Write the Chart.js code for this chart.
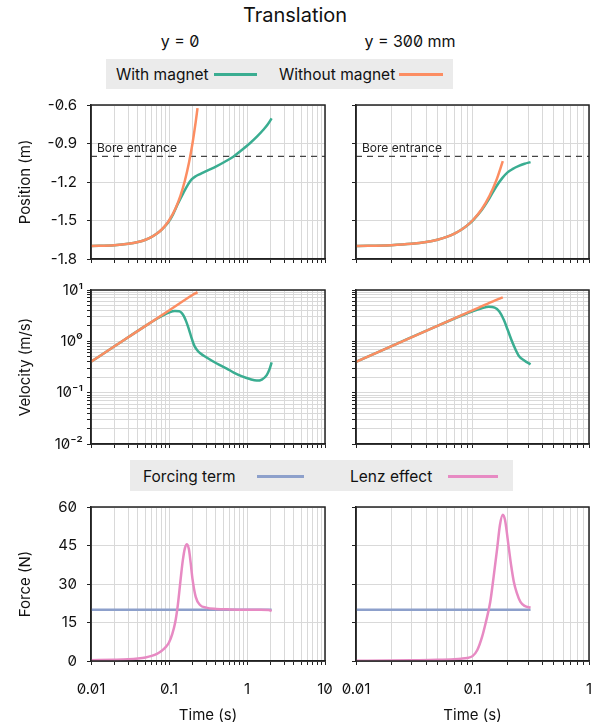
<!DOCTYPE html>
<html>
<head>
<meta charset="utf-8">
<script src="https://cdn.jsdelivr.net/npm/chart.js@4.4.1/dist/chart.umd.min.js"></script>
<style>
  html, body { margin: 0; padding: 0; background: #fff; }
  #page { position: relative; width: 602px; height: 728px; overflow: hidden;
    font-family: Inter, "Noto Sans", sans-serif; color: #111; font-feature-settings: "zero" 1; }
  .panel { position: absolute; }
  .ctr { position: absolute; white-space: nowrap; transform: translate(-50%, -50%); }
  .lbox { position: absolute; background: #ebebeb; }
  .ltxt { position: absolute; white-space: nowrap; font-size: 15.5px; transform: translateY(-50%); }
  .sw { position: absolute; height: 3px; }
</style>
</head>
<body>
<div id="page">
  <div class="ctr" style="left:295px; top:15px; font-size:20px;">Translation</div>
  <div class="ctr" style="left:180px; top:41px; font-size:16px;">y = 0</div>
  <div class="ctr" style="left:410px; top:41px; font-size:16px;">y = 300 mm</div>

  <div class="lbox" style="left:106px; top:59px; width:347px; height:30px;"></div>
  <div class="ltxt" style="left:116px; top:74px;">With magnet</div>
  <div class="sw" style="left:214px; top:73px; width:43px; background:#3aad91;"></div>
  <div class="ltxt" style="left:279px; top:74px;">Without magnet</div>
  <div class="sw" style="left:399px; top:73px; width:44px; background:#fc8d62;"></div>

  <div class="lbox" style="left:130px; top:460px; width:383px; height:31px;"></div>
  <div class="ltxt" style="left:143px; top:476px;">Forcing term</div>
  <div class="sw" style="left:257px; top:475px; width:47px; background:#8da0cb;"></div>
  <div class="ltxt" style="left:350px; top:476px;">Lenz effect</div>
  <div class="sw" style="left:448px; top:475px; width:50px; background:#e78ac3;"></div>

  <div class="panel" style="left:0; top:95px; width:335px; height:180px;"><canvas id="posL"></canvas></div>
  <div class="panel" style="left:330px; top:95px; width:272px; height:180px;"><canvas id="posR"></canvas></div>
  <div class="panel" style="left:0; top:280px; width:335px; height:180px;"><canvas id="velL"></canvas></div>
  <div class="panel" style="left:330px; top:280px; width:272px; height:180px;"><canvas id="velR"></canvas></div>
  <div class="panel" style="left:0; top:497px; width:335px; height:231px;"><canvas id="forL"></canvas></div>
  <div class="panel" style="left:330px; top:497px; width:272px; height:231px;"><canvas id="forR"></canvas></div>
</div>

<script>
// ---- tick labels ----
var timeTicksLeft = [0.01, 0.1, 1, 10];
var timeLabelsLeft = ['0.01', '0.1', '1', '10'];
var timeTicksRight = [0.01, 0.1, 1];
var timeLabelsRight = ['0.01', '0.1', '1'];
var posTicks = [-1.8, -1.5, -1.2, -0.9, -0.6];
var posLabels = ['-1.8', '-1.5', '-1.2', '-0.9', '-0.6'];
var velTicks = [0.01, 0.1, 1, 10];
var velLabels = ['10\u207B\u00B2', '10\u207B\u00B9', '10\u2070', '10\u00B9'];
var forceTicks = [0, 15, 30, 45, 60];
var forceLabels = ['0', '15', '30', '45', '60'];
var boreLevel = -1.0;

// ---- y = 0 : position ----
var tPosFreeL = [0.01, 0.02, 0.03, 0.04, 0.05, 0.06, 0.07, 0.08, 0.09, 0.1, 0.12, 0.14, 0.16, 0.18, 0.2, 0.22, 0.232];
var posFreeL = [-1.698, -1.692, -1.682, -1.668, -1.65, -1.628, -1.602, -1.572, -1.538, -1.5, -1.412, -1.308, -1.188, -1.052, -0.9, -0.732, -0.625];
var tPosMagL = [0.01, 0.02, 0.03, 0.04, 0.05, 0.06, 0.07, 0.08, 0.09, 0.1, 0.113, 0.13, 0.153, 0.175, 0.195, 0.22, 0.25, 0.3, 0.41, 0.52, 0.667, 0.85, 1.09, 1.35, 1.62, 1.85, 2.07];
var posMagL = [-1.698, -1.692, -1.682, -1.668, -1.65, -1.628, -1.602, -1.573, -1.541, -1.506, -1.45, -1.37, -1.285, -1.22, -1.18, -1.155, -1.138, -1.115, -1.076, -1.042, -1.003, -0.953, -0.898, -0.845, -0.793, -0.75, -0.704];

// ---- y = 300 mm : position ----
var tPosFreeR = [0.01, 0.02, 0.03, 0.04, 0.05, 0.06, 0.07, 0.08, 0.09, 0.1, 0.12, 0.14, 0.16, 0.182];
var posFreeR = [-1.698, -1.692, -1.682, -1.668, -1.65, -1.628, -1.602, -1.572, -1.538, -1.5, -1.412, -1.308, -1.188, -1.038];
var tPosMagR = [0.01, 0.02, 0.03, 0.04, 0.05, 0.06, 0.07, 0.08, 0.09, 0.1, 0.11, 0.12, 0.14, 0.16, 0.18, 0.2, 0.22, 0.25, 0.28, 0.315];
var posMagR = [-1.698, -1.692, -1.682, -1.668, -1.65, -1.628, -1.602, -1.572, -1.539, -1.502, -1.46, -1.418, -1.325, -1.235, -1.17, -1.125, -1.1, -1.075, -1.058, -1.045];

// ---- velocity ----
var tVelFreeL = [0.01, 0.02, 0.05, 0.1, 0.2, 0.232];
var velFreeL = [0.4, 0.8, 2.0, 4.0, 8.0, 9.1];
var tVelMagL = [0.01, 0.02, 0.05, 0.07, 0.085, 0.1, 0.119, 0.135, 0.145, 0.155, 0.165, 0.175, 0.185, 0.195, 0.205, 0.215, 0.23, 0.254, 0.3, 0.41, 0.55, 0.667, 0.85, 1.09, 1.33, 1.55, 1.79, 1.95, 2.07];
var velMagL = [0.4, 0.8, 2.0, 2.75, 3.25, 3.65, 3.9, 3.85, 3.6, 3.1, 2.5, 1.95, 1.5, 1.15, 0.92, 0.78, 0.67, 0.58, 0.49, 0.37, 0.295, 0.249, 0.21, 0.184, 0.172, 0.18, 0.22, 0.29, 0.39];
var tVelFreeR = [0.01, 0.02, 0.05, 0.1, 0.15, 0.182];
var velFreeR = [0.4, 0.8, 2.0, 4.0, 6.0, 7.2];
var tVelMagR = [0.01, 0.02, 0.05, 0.08, 0.1, 0.12, 0.138, 0.155, 0.17, 0.186, 0.2, 0.219, 0.235, 0.25, 0.28, 0.315];
var velMagR = [0.4, 0.8, 2.0, 3.15, 3.85, 4.4, 4.7, 4.55, 3.8, 2.6, 1.7, 0.98, 0.68, 0.52, 0.42, 0.356];

// ---- force ----
var tForcingL = [0.01, 2.07];
var forcingL = [20, 20];
var tLenzL = [0.01, 0.02, 0.03, 0.04, 0.05, 0.06, 0.07, 0.08, 0.09, 0.1, 0.11, 0.12, 0.13, 0.14, 0.15, 0.16, 0.17, 0.18, 0.19, 0.2, 0.22, 0.25, 0.3, 0.4, 0.6, 1, 1.5, 1.9, 2.07];
var lenzL = [0.3, 0.5, 0.7, 1.0, 1.4, 2.0, 2.8, 3.9, 5.3, 7.2, 10.5, 15, 22, 31, 39, 44, 45.5, 43.5, 38, 32, 25, 21.8, 20.8, 20.3, 20.1, 20.0, 20.0, 19.9, 19.5];
var tForcingR = [0.01, 0.315];
var forcingR = [20, 20];
var tLenzR = [0.01, 0.02, 0.03, 0.05, 0.07, 0.08, 0.09, 0.1, 0.11, 0.121, 0.13, 0.142, 0.152, 0.163, 0.172, 0.182, 0.19, 0.205, 0.215, 0.226, 0.24, 0.258, 0.28, 0.315];
var lenzR = [0.1, 0.2, 0.3, 0.45, 0.7, 0.9, 1.2, 1.9, 4.3, 9.5, 15, 23, 33, 44, 53, 57, 55, 44, 37, 31, 26.5, 23, 21.5, 20.8];

var C_MAG = '#3aad91', C_FREE = '#fc8d62', C_FORCE = '#8da0cb', C_LENZ = '#e78ac3';
var GRID = '#d9d9d9', AXIS = '#222';

Chart.defaults.font.family = 'Inter, "Noto Sans", sans-serif';
Chart.defaults.color = '#111';

function pts(xs, ys) {
  return xs.map(function (x, i) { return { x: x, y: ys[i] }; });
}

// gridline positions for log axes (1..9 per decade)
function logGrid(lo, hi) {
  var out = [];
  for (var e = lo; e < hi; e++) {
    for (var m = 1; m < 10; m++) out.push(+(m * Math.pow(10, e)).toPrecision(3));
  }
  out.push(Math.pow(10, hi));
  return out;
}

function labelFor(vals, labels) {
  return function (v) {
    for (var i = 0; i < vals.length; i++) {
      if (Math.abs(v - vals[i]) < 1e-9 * Math.max(1, Math.abs(vals[i]))) return labels[i];
    }
    return '';
  };
}

var framePlugin = {
  id: 'frame',
  afterDatasetsDraw: function (chart) {
    var a = chart.chartArea, ctx = chart.ctx;
    ctx.save();
    ctx.strokeStyle = AXIS;
    ctx.lineWidth = 1.5;
    ctx.strokeRect(a.left, a.top, a.right - a.left, a.bottom - a.top);
    if (chart.options.plugins.frame && chart.options.plugins.frame.bore) {
      ctx.fillStyle = '#222';
      ctx.font = '12px Inter, "Noto Sans", sans-serif';
      ctx.textBaseline = 'alphabetic';
      ctx.fillText('Bore entrance', a.left + 6, chart.scales.y.getPixelForValue(boreLevel) - 4);
    }
    ctx.restore();
  }
};

function line(data, color, width, dash) {
  return {
    data: data, borderColor: color, backgroundColor: color, borderWidth: width,
    borderDash: dash || [], pointRadius: 0, fill: false,
    cubicInterpolationMode: 'monotone'
  };
}

function makePanel(id, cfg) {
  var left = cfg.col === 0;
  var xMax = left ? 10 : 1;
  var xHi = left ? 1 : 0;
  var yW = left ? 91 : 26;
  var xH = cfg.bottom ? 67 : 16;
  new Chart(document.getElementById(id), {
    type: 'line',
    data: { datasets: cfg.datasets },
    plugins: [framePlugin],
    options: {
      responsive: true,
      maintainAspectRatio: false,
      animation: false,
      devicePixelRatio: 1,
      layout: { padding: { top: 10, right: left ? 10 : 13, bottom: 0, left: 0 } },
      plugins: {
        legend: { display: false },
        tooltip: { enabled: false },
        frame: { bore: !!cfg.bore }
      },
      scales: {
        x: {
          type: 'logarithmic', min: 0.01, max: xMax,
          afterBuildTicks: function (s) {
            s.ticks = logGrid(-2, xHi).map(function (v) { return { value: v }; });
          },
          ticks: {
            display: !!cfg.bottom, autoSkip: false, maxRotation: 0, padding: 15,
            font: { size: 15 }, color: '#111',
            callback: labelFor(left ? timeTicksLeft : timeTicksRight, left ? timeLabelsLeft : timeLabelsRight)
          },
          grid: { color: GRID, lineWidth: 1, tickLength: 4, tickColor: AXIS, tickWidth: 1 },
          border: { color: AXIS, width: 1.5 },
          title: { display: !!cfg.bottom, text: 'Time (s)', font: { size: 15 }, color: '#111', padding: { top: 0, bottom: 4 } },
          afterFit: function (s) { s.height = xH; s.paddingLeft = 0; s.paddingRight = 0; }
        },
        y: {
          type: cfg.yType, min: cfg.yMin, max: cfg.yMax,
          afterBuildTicks: function (s) {
            s.ticks = cfg.yGrid.map(function (v) { return { value: v }; });
          },
          ticks: {
            display: left, autoSkip: false, padding: cfg.yPad, font: { size: 15 }, color: '#111',
            callback: labelFor(cfg.yTicks, cfg.yLabels)
          },
          grid: { color: GRID, lineWidth: 1, tickLength: 4, tickColor: AXIS, tickWidth: 1 },
          border: { color: AXIS, width: 1.5 },
          title: { display: left, text: cfg.yTitle, font: { size: 15 }, color: '#111', padding: { top: 16, bottom: 0 } },
          afterFit: function (s) { s.width = yW; s.paddingTop = 0; s.paddingBottom = 0; }
        }
      }
    }
  });
}

function posPanel(id, col, tFree, yFree, tMag, yMag) {
  var xEnd = col === 0 ? 10 : 1;
  makePanel(id, {
    col: col, bore: true, yType: 'linear', yMin: -1.8, yMax: -0.6,
    yGrid: posTicks, yTicks: posTicks, yLabels: posLabels, yPad: 10, yTitle: 'Position (m)',
    datasets: [
      line(pts(tFree, yFree), C_FREE, 2.5),
      line(pts(tMag, yMag), C_MAG, 2.5),
      line(pts([0.01, xEnd], [boreLevel, boreLevel]), '#444', 1.3, [6, 5])
    ]
  });
}

function velPanel(id, col, tFree, vFree, tMag, vMag) {
  makePanel(id, {
    col: col, yType: 'logarithmic', yMin: 0.01, yMax: 10,
    yGrid: logGrid(-2, 1), yTicks: velTicks, yLabels: velLabels, yPad: 4, yTitle: 'Velocity (m/s)',
    datasets: [
      line(pts(tFree, vFree), C_FREE, 2.5),
      line(pts(tMag, vMag), C_MAG, 2.5)
    ]
  });
}

function forcePanel(id, col, tLenz, fLenz, tForce, fForce) {
  makePanel(id, {
    col: col, bottom: true, yType: 'linear', yMin: 0, yMax: 60,
    yGrid: forceTicks, yTicks: forceTicks, yLabels: forceLabels, yPad: 10, yTitle: 'Force (N)',
    datasets: [
      line(pts(tLenz, fLenz), C_LENZ, 2.5),
      line(pts(tForce, fForce), C_FORCE, 2.5)
    ]
  });
}

posPanel('posL', 0, tPosFreeL, posFreeL, tPosMagL, posMagL);
posPanel('posR', 1, tPosFreeR, posFreeR, tPosMagR, posMagR);
velPanel('velL', 0, tVelFreeL, velFreeL, tVelMagL, velMagL);
velPanel('velR', 1, tVelFreeR, velFreeR, tVelMagR, velMagR);
forcePanel('forL', 0, tLenzL, lenzL, tForcingL, forcingL);
forcePanel('forR', 1, tLenzR, lenzR, tForcingR, forcingR);
</script>
</body>
</html>
